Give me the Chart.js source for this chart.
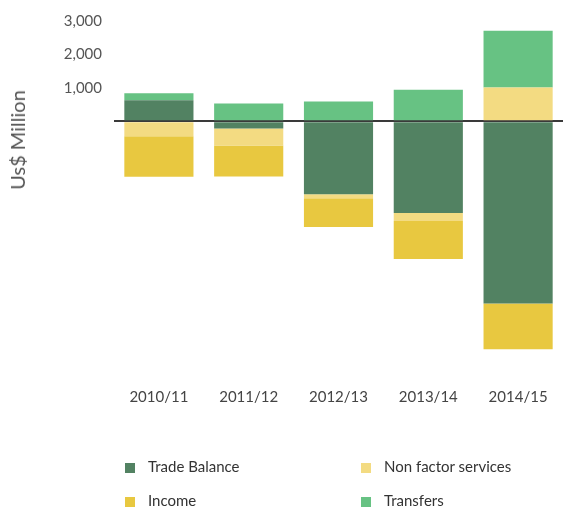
<!DOCTYPE html>
<html>
<head>
<meta charset="utf-8">
<script src="https://cdn.jsdelivr.net/npm/chart.js@4/dist/chart.umd.min.js"></script>
<style>
  html, body { margin: 0; padding: 0; background: #fff; }
  #wrap { position: relative; width: 563px; height: 509px; font-family: Lato, "Noto Sans", sans-serif; }
  #yTitle { position: absolute; left: 17px; top: 140px; transform: translate(-50%, -50%) rotate(-90deg);
    font-size: 20px; color: #555; white-space: nowrap; }
  .leg { position: absolute; font-size: 15px; color: #333; white-space: nowrap; line-height: 18px; }
  .leg span { display: inline-block; width: 10px; height: 10px; margin-right: 13px; vertical-align: -1px; }
</style>
</head>
<body>
<div id="wrap">
  <canvas id="chart" width="563" height="509"></canvas>
  <div id="yTitle">Us$ Million</div>
  <div id="legend"></div>
</div>
<script>
const years = ['2010/11', '2011/12', '2012/13', '2013/14', '2014/15'];

const tradeBalance = [630, -220, -2190, -2750, -5460];
const nonFactorServices = [-450, -510, -120, -240, 1005];
const income = [-1215, -925, -855, -1135, -1370];
const transfers = [210, 530, 590, 945, 1700];

const yTicks = [0, 1000, 2000, 3000];

const seriesNames = ['Trade Balance', 'Non factor services', 'Income', 'Transfers'];
const seriesColors = ['#528262', '#F3DB82', '#E8C840', '#67C283'];

const ctx = document.getElementById('chart');

new Chart(ctx, {
  type: 'bar',
  data: {
    labels: years,
    datasets: [tradeBalance, nonFactorServices, income, transfers].map((d, i) => ({
      label: seriesNames[i],
      data: d,
      backgroundColor: seriesColors[i],
      borderWidth: 0,
      barPercentage: 0.77,
      categoryPercentage: 1
    }))
  },
  options: {
    responsive: false,
    animation: false,
    layout: { padding: { top: 20, right: 0, bottom: 95, left: 0 } },
    plugins: {
      legend: { display: false },
      tooltip: { enabled: false }
    },
    scales: {
      x: {
        stacked: true,
        grid: { display: false, drawTicks: false },
        border: { display: false },
        ticks: { color: '#444', padding: 8, font: { family: 'Lato', size: 15 } }
      },
      y: {
        stacked: true,
        min: -7750,
        max: 3000,
        afterFit(scale) { scale.width = 114; },
        afterBuildTicks(scale) { scale.ticks = yTicks.map(v => ({ value: v })); },
        border: { display: false },
        grid: {
          drawTicks: false,
          color: c => c.tick.value === 0 ? '#3a3a3a' : 'rgba(0,0,0,0)',
          lineWidth: c => c.tick.value === 0 ? 2 : 0
        },
        ticks: {
          padding: 12,
          color: '#555',
          font: { family: 'Lato', size: 15 },
          callback: v => v > 0 ? v.toLocaleString('en-US') : ''
        }
      }
    }
  }
});

// legend in two columns like the original
const legendPos = [[125, 466], [361, 466], [125, 500], [361, 500]];
const legend = document.getElementById('legend');
seriesNames.forEach((name, i) => {
  const el = document.createElement('div');
  el.className = 'leg';
  el.style.left = legendPos[i][0] + 'px';
  el.style.top = (legendPos[i][1] - 9) + 'px';
  el.innerHTML = '<span style="background:' + seriesColors[i] + '"></span>' + name;
  legend.appendChild(el);
});
</script>
</body>
</html>
